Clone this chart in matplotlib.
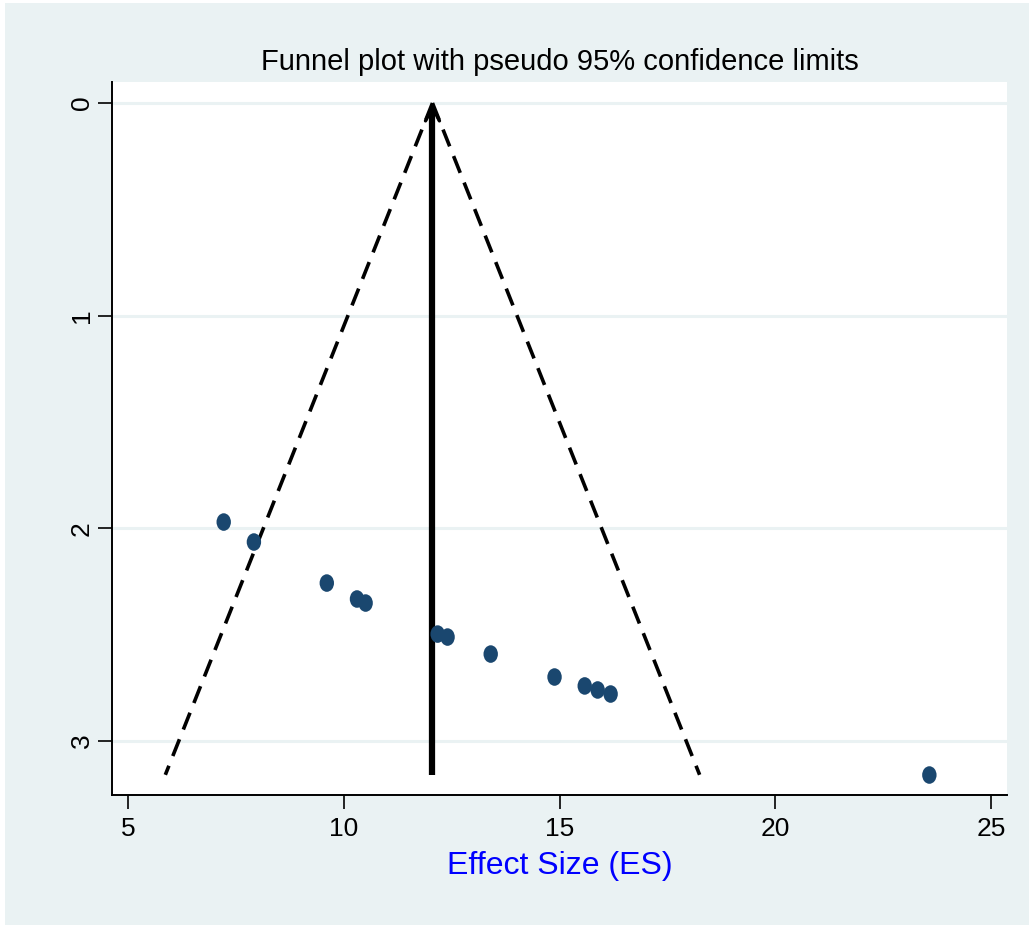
import numpy as np
import matplotlib.pyplot as plt
from matplotlib.patches import Rectangle
from matplotlib.markers import MarkerStyle
from matplotlib.transforms import Affine2D

# study effect sizes and their standard errors
es = [7.21, 7.91, 9.60, 10.30, 10.50, 12.17, 12.40, 13.40, 14.88, 15.58, 15.88, 16.18, 23.57]
se = [1.971, 2.065, 2.258, 2.333, 2.352, 2.498, 2.512, 2.592, 2.700, 2.742, 2.761, 2.780, 3.161]
pooled = 12.05
se_max = 3.16
x_ticks = [5, 10, 15, 20, 25]
y_ticks = [0, 1, 2, 3]

plt.rcParams['font.family'] = ['Liberation Sans', 'DejaVu Sans']

W, H = 1029, 926
fig = plt.figure(figsize=(W / 100, H / 100), dpi=100)
fig.patch.set_facecolor('white')
fig.add_artist(Rectangle((5 / W, 1 - 925 / H), 1024 / W, 922 / H,
                         transform=fig.transFigure, facecolor='#eaf2f3',
                         edgecolor='none', zorder=-10))

ax = fig.add_axes([112 / W, 1 - 795 / H, (1007 - 112) / W, (795 - 82) / H])
ax.set_facecolor('white')

for t in y_ticks:
    ax.axhline(t, color='#eaf2f3', lw=2.2, zorder=1)

# pseudo 95% limits
s = np.array([0, se_max])
ax.plot(pooled - 1.96 * s, s, color='black', lw=2.6, ls=(0, (5, 2.9)), zorder=2)
ax.plot(pooled + 1.96 * s, s, color='black', lw=2.6, ls=(0, (5, 2.9)), zorder=2)

# pooled estimate
ax.plot([pooled, pooled], [0.05, se_max], color='black', lw=4.5, solid_capstyle='butt', zorder=3)
ax.annotate('', xy=(pooled, 0), xytext=(pooled, 0.3),
            arrowprops=dict(arrowstyle='->', color='black', lw=2.5,
                            mutation_scale=25, shrinkA=0, shrinkB=0), zorder=3)

m = MarkerStyle('o', transform=Affine2D().scale(0.82, 1.0))
ax.scatter(es, se, marker=m, s=160, color='#1a476f', edgecolors='none', zorder=4)

ax.set_xlim(4.62, 25.37)
ax.set_ylim(3.255, -0.099)
ax.set_xticks(x_ticks)
ax.set_yticks(y_ticks)
ax.tick_params(axis='both', length=10, width=1.2, labelsize=19, pad=6)
ax.tick_params(axis='y', labelrotation=90, pad=3)
for lab in ax.get_yticklabels():
    lab.set_va('center')
for side in ['top', 'right']:
    ax.spines[side].set_visible(False)
for side in ['left', 'bottom']:
    ax.spines[side].set_linewidth(1.4)

ax.set_xlabel('Effect Size (ES)', color='#0000ff', fontsize=23, labelpad=7)
ax.set_title('Funnel plot with pseudo 95% confidence limits', fontsize=21, pad=9)

fig.savefig('out.png', dpi=100)
